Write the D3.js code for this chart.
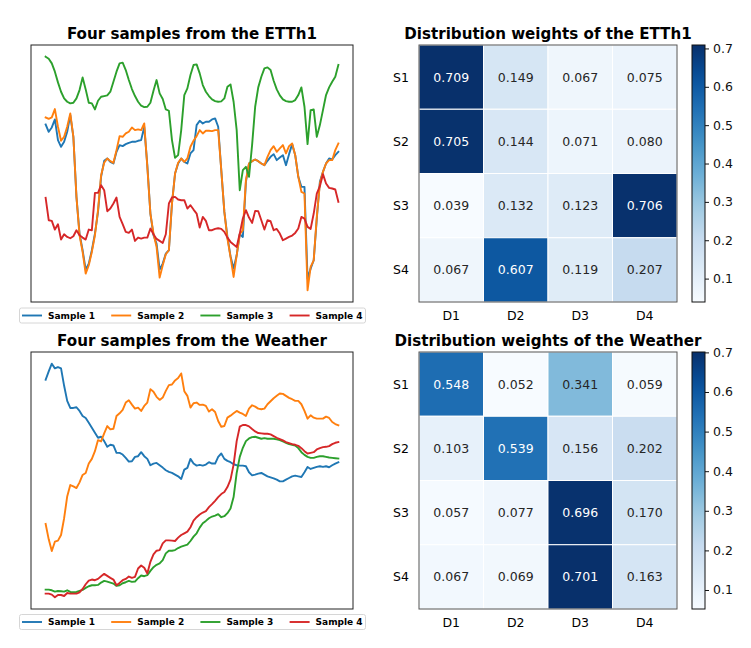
<!DOCTYPE html>
<html>
<head>
<meta charset="utf-8">
<script src="https://cdn.jsdelivr.net/npm/d3@7"></script>
<style>
  body { margin: 0; background: #fff; }
  text { font-family: "DejaVu Sans", sans-serif; }
</style>
</head>
<body>
<div id="chart"></div>
<script>
// ---- data (arbitrary units since the line plots have no ticks) ----
const sampleNames = ["Sample 1", "Sample 2", "Sample 3", "Sample 4"];
const lineColors = ["#1f77b4", "#ff7f0e", "#2ca02c", "#d62728"];
const rowLabels = ["S1", "S2", "S3", "S4"];
const colLabels = ["D1", "D2", "D3", "D4"];
const cbarTicks = [0.1, 0.2, 0.3, 0.4, 0.5, 0.6, 0.7];

// ETTh1, 96 steps
const ettS1 = [62.7, 60.5, 61.8, 64.2, 58.0, 56.0, 57.5, 60.5, 65.5, 59.0,
  41.0, 30.0, 25.0, 19.2, 21.0, 25.0, 30.0, 36.5, 47.0, 51.8,
  52.5, 51.5, 51.0, 54.5, 56.5, 56.2, 56.8, 57.2, 57.5, 57.5,
  57.8, 58.0, 62.0, 50.5, 36.0, 29.5, 27.0, 19.2, 21.0, 24.0,
  25.0, 39.0, 48.0, 51.0, 52.5, 51.5, 51.0, 54.0, 55.0, 62.5,
  63.8, 63.0, 63.5, 63.5, 64.2, 64.5, 62.0, 49.0, 36.5, 29.0,
  23.2, 19.5, 23.5, 29.8, 29.0, 45.5, 51.0, 51.7, 52.2, 51.7,
  51.0, 50.5, 51.8, 53.0, 53.8, 52.0, 52.8, 53.5, 50.5, 53.8,
  56.8, 53.5, 47.0, 44.0, 44.0, 16.5, 19.5, 22.0, 34.5, 45.5,
  48.5, 51.0, 52.5, 52.2, 53.5, 54.5];
const ettS2 = [64.8, 64.4, 64.8, 67.3, 62.0, 57.8, 59.0, 62.0, 66.0, 59.0,
  41.0, 29.5, 24.5, 18.0, 20.5, 24.5, 29.5, 37.0, 47.5, 51.2,
  52.5, 51.7, 51.2, 55.0, 59.2, 59.0, 60.0, 60.5, 61.8, 61.0,
  61.2, 61.0, 63.0, 50.0, 36.0, 30.0, 26.0, 16.8, 20.5, 23.8,
  25.0, 39.0, 48.0, 51.2, 52.5, 51.5, 52.5, 56.0, 57.8, 59.2,
  61.0, 60.0, 60.8, 60.8, 60.7, 61.0, 61.0, 49.0, 36.5, 28.5,
  23.0, 17.0, 23.5, 29.8, 31.0, 46.0, 51.0, 51.7, 52.2, 51.7,
  51.0, 50.5, 53.0, 55.0, 56.2, 54.5, 55.5, 56.5, 54.0, 56.2,
  57.0, 53.5, 47.0, 42.5, 42.0, 13.0, 20.0, 22.0, 35.0, 45.0,
  48.5, 51.0, 52.0, 52.0, 55.0, 57.0];
const ettS3 = [83.0, 82.4, 81.0, 78.5, 75.3, 72.5, 70.5, 69.5, 69.0, 69.2,
  70.5, 73.0, 76.8, 73.2, 69.2, 69.0, 67.2, 69.8, 71.0, 71.2,
  71.4, 72.5, 75.5, 78.5, 81.0, 81.2, 79.0, 76.0, 73.3, 71.2,
  69.5, 68.3, 67.9, 68.0, 69.2, 72.8, 76.0, 72.0, 70.3, 67.2,
  66.8, 58.0, 52.7, 53.5, 61.0, 71.5, 73.5, 77.5, 80.5, 80.7,
  78.0, 74.5, 72.5, 71.2, 70.2, 69.7, 69.5, 69.6, 70.5, 74.0,
  74.7, 69.5, 61.0, 43.0, 49.0, 50.0, 47.0, 56.5, 68.0, 73.8,
  77.0, 79.5, 79.8, 79.0, 75.8, 73.2, 71.4, 70.2, 69.7, 69.5,
  69.5, 70.0, 71.5, 73.8, 68.0, 56.8, 67.0, 67.2, 59.0, 62.5,
  67.0, 71.5, 73.8, 75.5, 77.0, 80.5];
const ettS4 = [40.7, 34.0, 33.8, 31.2, 32.8, 28.2, 29.8, 29.0, 28.6, 29.2,
  31.0, 29.5, 28.8, 28.2, 31.2, 31.0, 42.2, 42.2, 44.5, 43.0,
  36.7, 37.5, 39.0, 40.8, 35.0, 32.8, 30.5, 30.2, 31.2, 27.8,
  28.8, 28.5, 28.8, 28.8, 31.5, 29.8, 28.4, 27.8, 27.2, 29.8,
  39.0, 40.8, 41.0, 40.2, 40.0, 40.0, 37.5, 38.5, 37.2, 36.0,
  31.8, 35.0, 33.8, 31.0, 31.0, 31.4, 31.6, 31.4, 30.5, 28.8,
  27.5, 26.7, 26.0, 30.0, 34.5, 37.0, 34.8, 33.2, 36.8, 36.7,
  34.0, 31.2, 34.0, 33.7, 31.0, 31.4, 30.0, 28.0, 28.5, 29.0,
  29.4, 30.2, 31.5, 35.0, 34.5, 32.0, 31.4, 36.0, 42.0, 44.2,
  47.8, 45.0, 43.7, 43.5, 43.2, 39.5];

// Weather, 96 steps
const wthS1 = [72.8, 75.3, 77.6, 76.2, 76.6, 76.2, 71.0, 66.5, 64.4, 64.4,
  64.6, 63.5, 62.0, 61.4, 60.0, 58.5, 57.0, 55.5, 55.8, 54.5,
  52.8, 53.4, 53.2, 51.0, 51.0, 50.5, 49.5, 48.4, 48.5, 49.8,
  50.0, 51.2, 50.0, 49.2, 47.3, 47.8, 48.0, 47.3, 46.6, 45.8,
  45.3, 45.0, 44.5, 44.0, 43.2, 46.0, 46.5, 49.2, 47.8, 47.2,
  47.4, 47.2, 47.5, 48.2, 47.8, 47.8, 49.8, 50.8, 49.2, 48.6,
  48.2, 47.6, 47.3, 47.2, 47.2, 47.0, 45.2, 44.3, 44.5, 44.8,
  45.0, 44.5, 44.0, 43.7, 43.4, 43.0, 42.5, 42.5, 43.0, 43.5,
  44.0, 44.2, 44.0, 43.8, 45.2, 46.8, 46.2, 46.5, 46.8, 47.0,
  46.8, 47.0, 46.7, 47.3, 47.8, 48.2];
const wthS2 = [29.8, 25.2, 21.7, 24.5, 24.8, 26.5, 31.5, 38.0, 41.4, 41.0,
  40.5, 42.2, 44.4, 45.0, 47.8, 49.2, 51.5, 54.8, 54.4, 56.8,
  59.0, 58.0, 58.2, 62.0, 62.8, 63.8, 66.0, 66.7, 65.4, 64.2,
  64.5, 63.5, 65.0, 66.0, 70.0, 69.2, 67.7, 66.8, 67.5, 69.5,
  71.2, 71.4, 72.6, 73.3, 74.7, 69.4, 68.0, 64.5, 65.8, 66.0,
  65.3, 65.4, 65.0, 63.3, 64.0, 63.2, 60.5, 58.8, 59.0, 61.5,
  62.1, 62.8, 63.5, 63.0, 62.6, 62.0, 64.2, 65.2, 64.8, 64.2,
  64.0, 64.2, 65.5, 66.4, 67.3, 68.0, 68.7, 68.6, 68.0, 67.4,
  67.0, 66.5, 66.5, 65.5, 63.5, 61.2, 62.2, 61.5, 61.2, 61.2,
  61.2, 61.8, 61.4, 60.2, 59.6, 59.2];
const wthS3 = [10.2, 10.2, 10.0, 9.6, 9.8, 9.7, 9.6, 10.0, 9.5, 9.4,
  9.5, 9.8, 10.1, 10.7, 11.2, 11.5, 11.5, 11.6, 12.3, 12.8,
  12.6, 12.3, 12.0, 11.3, 11.5, 12.1, 12.4, 12.8, 12.5, 12.6,
  13.6, 14.4, 14.2, 14.5, 15.8, 16.9, 17.6, 18.0, 19.0, 21.0,
  21.8, 21.8, 22.0, 22.6, 23.0, 23.3, 23.6, 24.7, 26.0, 27.0,
  28.7, 30.0, 30.7, 31.5, 32.0, 32.3, 32.7, 31.8, 32.1, 33.0,
  34.4, 37.8, 45.0, 49.8, 52.5, 54.5, 55.3, 55.7, 55.8, 55.5,
  55.2, 55.4, 55.2, 55.2, 55.2, 55.0, 54.8, 54.4, 54.0, 53.6,
  53.4, 53.2, 52.4, 51.2, 50.4, 49.8, 49.5, 49.5, 49.8, 50.0,
  50.0, 49.8, 49.6, 49.5, 49.4, 49.3];
const wthS4 = [9.0, 9.0, 8.7, 7.9, 8.6, 8.6, 8.3, 9.2, 9.0, 9.0,
  9.0, 9.4, 10.4, 11.8, 12.9, 13.2, 13.0, 13.4, 14.2, 14.9,
  14.3, 13.7, 13.2, 11.5, 12.2, 13.0, 13.4, 14.1, 13.7, 14.0,
  16.5, 17.4, 16.7, 15.0, 18.5, 20.7, 21.8, 22.0, 24.0, 24.9,
  24.9, 24.8, 24.7, 25.7, 26.5, 27.0, 27.5, 28.8, 30.8, 31.8,
  32.6, 33.2, 33.6, 34.8, 35.7, 36.7, 37.8, 38.7, 39.3, 40.8,
  43.0, 47.5, 54.5, 58.8, 59.3, 59.3, 58.9, 58.1, 57.4, 56.9,
  56.8, 56.7, 56.7, 56.5, 56.0, 55.5, 55.1, 54.7, 54.2, 53.9,
  53.6, 53.4, 53.1, 52.4, 51.5, 50.8, 51.0, 51.2, 52.0, 52.4,
  52.7, 52.8, 53.0, 53.6, 54.0, 54.2];

// distribution weights (rows S1..S4, cols D1..D4)
const ettWeights = [
  [0.709, 0.149, 0.067, 0.075],
  [0.705, 0.144, 0.071, 0.080],
  [0.039, 0.132, 0.123, 0.706],
  [0.067, 0.607, 0.119, 0.207]
];
const weatherWeights = [
  [0.548, 0.052, 0.341, 0.059],
  [0.103, 0.539, 0.156, 0.202],
  [0.057, 0.077, 0.696, 0.170],
  [0.067, 0.069, 0.701, 0.163]
];

// ---- drawing ----
const W = 751, H = 648;
const svg = d3.select("#chart").append("svg")
  .attr("width", W).attr("height", H)
  .style("background", "#fff");

// matplotlib "Blues" is piecewise linear through the 9 brewer colours
const bluesRamp = d3.piecewise(d3.interpolateRgb, d3.schemeBlues[9]);

function luminance(c) {
  const rgb = d3.rgb(c);
  const lin = v => { v /= 255; return v <= 0.03928 ? v / 12.92 : Math.pow((v + 0.055) / 1.055, 2.4); };
  return 0.2126 * lin(rgb.r) + 0.7152 * lin(rgb.g) + 0.0722 * lin(rgb.b);
}

function linePanel(series, box, title, legendY) {
  const g = svg.append("g");
  const n = series[0].length;
  const pad = (n - 1) * 0.05;
  const x = d3.scaleLinear().domain([-pad, n - 1 + pad]).range([box.x0, box.x1]);
  const lo = d3.min(series, s => d3.min(s)), hi = d3.max(series, s => d3.max(s));
  const ypad = (hi - lo) * 0.05;
  const y = d3.scaleLinear().domain([lo - ypad, hi + ypad]).range([box.y1, box.y0]);

  const line = d3.line().x((d, i) => x(i)).y(d => y(d));
  series.forEach((s, k) => {
    g.append("path").datum(s)
      .attr("d", line)
      .attr("fill", "none")
      .attr("stroke", lineColors[k])
      .attr("stroke-width", 1.9)
      .attr("stroke-linejoin", "round")
      .attr("stroke-linecap", "square");
  });

  g.append("rect")
    .attr("x", box.x0).attr("y", box.y0)
    .attr("width", box.x1 - box.x0).attr("height", box.y1 - box.y0)
    .attr("fill", "none").attr("stroke", "#222").attr("stroke-width", 1);

  g.append("text")
    .attr("x", (box.x0 + box.x1) / 2).attr("y", box.y0 - 6)
    .attr("text-anchor", "middle")
    .attr("font-size", 15.1).attr("font-weight", "bold")
    .text(title);

  // legend under the axes
  const lg = g.append("g");
  lg.append("rect")
    .attr("x", 19.5).attr("y", legendY - 7.5)
    .attr("width", 346).attr("height", 15)
    .attr("rx", 2)
    .attr("fill", "#fff").attr("stroke", "#d6d6d6").attr("stroke-width", 1);
  sampleNames.forEach((name, k) => {
    const lx = 22 + k * 89.2;
    lg.append("line")
      .attr("x1", lx).attr("x2", lx + 20)
      .attr("y1", legendY).attr("y2", legendY)
      .attr("stroke", lineColors[k]).attr("stroke-width", 1.9);
    lg.append("text")
      .attr("x", lx + 26).attr("y", legendY + 3.2)
      .attr("font-size", 9).attr("font-weight", "bold")
      .text(name);
  });
}

function heatPanel(weights, box, title, gradId) {
  const g = svg.append("g");
  const flat = weights.flat();
  const vmin = d3.min(flat), vmax = d3.max(flat);
  const color = d3.scaleSequential(bluesRamp).domain([vmin, vmax]);

  const x = d3.scaleBand().domain(colLabels).range([box.x0, box.x1]);
  const y = d3.scaleBand().domain(rowLabels).range([box.y0, box.y1]);

  const cells = [];
  weights.forEach((row, r) => row.forEach((v, c) => cells.push({ r, c, v })));

  g.selectAll("rect.cell").data(cells).enter().append("rect")
    .attr("class", "cell")
    .attr("x", d => x(colLabels[d.c]))
    .attr("y", d => y(rowLabels[d.r]))
    .attr("width", x.bandwidth())
    .attr("height", y.bandwidth())
    .attr("fill", d => color(d.v))
    .attr("stroke", "#fff").attr("stroke-width", 1);

  g.selectAll("text.val").data(cells).enter().append("text")
    .attr("class", "val")
    .attr("x", d => x(colLabels[d.c]) + x.bandwidth() / 2)
    .attr("y", d => y(rowLabels[d.r]) + y.bandwidth() / 2 + 4.5)
    .attr("text-anchor", "middle")
    .attr("font-size", 12.5)
    .attr("fill", d => luminance(color(d.v)) > 0.408 ? "#262626" : "#fff")
    .text(d => d.v.toFixed(3));

  g.append("rect")
    .attr("x", box.x0).attr("y", box.y0)
    .attr("width", box.x1 - box.x0).attr("height", box.y1 - box.y0)
    .attr("fill", "none").attr("stroke", "#555").attr("stroke-width", 1);

  // row / column labels
  g.selectAll("text.row").data(rowLabels).enter().append("text")
    .attr("x", box.x0 - 10)
    .attr("y", d => y(d) + y.bandwidth() / 2 + 4.5)
    .attr("text-anchor", "end").attr("font-size", 12.5)
    .text(d => d);
  g.selectAll("text.col").data(colLabels).enter().append("text")
    .attr("x", d => x(d) + x.bandwidth() / 2)
    .attr("y", box.y1 + 18)
    .attr("text-anchor", "middle").attr("font-size", 12.5)
    .text(d => d);

  g.append("text")
    .attr("x", (box.x0 + box.x1) / 2).attr("y", box.y0 - 6)
    .attr("text-anchor", "middle")
    .attr("font-size", 15.1).attr("font-weight", "bold")
    .text(title);

  // colour bar
  const cb = { x0: 692, x1: 705 };
  const cy = d3.scaleLinear().domain([vmin, vmax]).range([box.y1, box.y0]);
  const grad = svg.append("defs").append("linearGradient")
    .attr("id", gradId).attr("x1", 0).attr("x2", 0).attr("y1", 1).attr("y2", 0);
  d3.range(0, 1.0001, 0.05).forEach(t => {
    grad.append("stop").attr("offset", t)
      .attr("stop-color", color(vmin + t * (vmax - vmin)));
  });
  g.append("rect")
    .attr("x", cb.x0).attr("y", box.y0)
    .attr("width", cb.x1 - cb.x0).attr("height", box.y1 - box.y0)
    .attr("fill", `url(#${gradId})`)
    .attr("stroke", "#111").attr("stroke-width", 1);
  const ax = g.append("g")
    .attr("transform", `translate(${cb.x1},0)`)
    .call(d3.axisRight(cy).tickValues(cbarTicks).tickSize(4).tickPadding(4).tickFormat(d3.format(".1f")));
  ax.select(".domain").remove();
  ax.selectAll("text").attr("font-size", 12.5).attr("font-family", "DejaVu Sans").attr("fill", "#111");
  ax.selectAll("line").attr("stroke", "#111");
}

linePanel([ettS1, ettS2, ettS3, ettS4], { x0: 31, x1: 353, y0: 45, y1: 302 },
  "Four samples from the ETTh1", 315.5);
linePanel([wthS1, wthS2, wthS3, wthS4], { x0: 31, x1: 353, y0: 352, y1: 609 },
  "Four samples from the Weather", 622);
heatPanel(ettWeights, { x0: 419, x1: 677, y0: 45, y1: 302 },
  "Distribution weights of the ETTh1", "cbarEtt");
heatPanel(weatherWeights, { x0: 419, x1: 677, y0: 352, y1: 609 },
  "Distribution weights of the Weather", "cbarWeather");
</script>
</body>
</html>
